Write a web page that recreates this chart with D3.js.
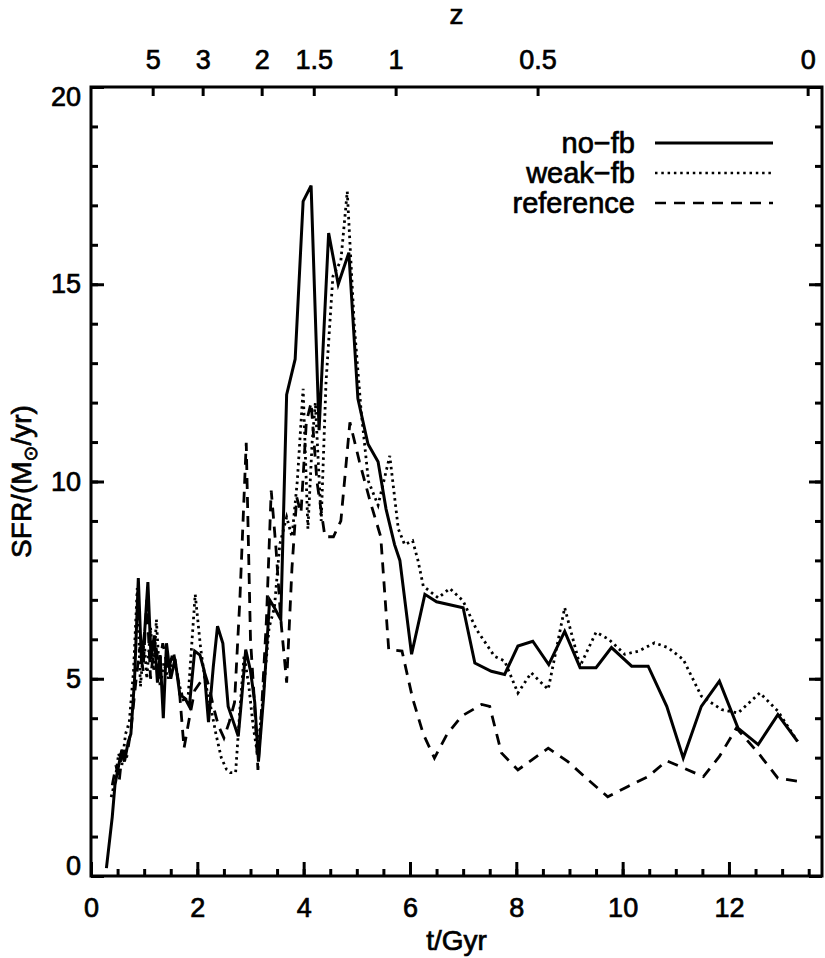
<!DOCTYPE html>
<html>
<head>
<meta charset="utf-8">
<script src="https://cdn.jsdelivr.net/npm/d3@7"></script>
<style>
  body { margin: 0; background: #fff; }
  text { font-family: "Liberation Sans", Arial, sans-serif; fill: #000; stroke: #000; stroke-width: 0.7px; }
</style>
</head>
<body>
<svg id="chart" width="825" height="958"></svg>
<script>
// star formation rate histories, [t/Gyr, SFR in Msun/yr]
const noFb = [
  [0.29,0.2],[0.40,1.5],[0.45,2.3],[0.52,2.8],[0.58,3.2],[0.63,2.9],[0.70,3.4],[0.75,3.6],
  [0.82,5.0],[0.89,7.55],[0.95,5.4],[1.01,6.2],[1.07,7.45],[1.13,5.5],[1.19,6.1],[1.25,4.9],
  [1.30,5.6],[1.36,4.0],[1.42,5.9],[1.50,5.0],[1.58,5.5],[1.67,4.6],[1.77,4.5],[1.85,4.3],
  [1.95,5.7],[2.05,5.6],[2.13,5.2],[2.21,3.9],[2.30,5.3],[2.38,6.33],[2.48,5.9],[2.58,4.3],
  [2.68,3.9],[2.77,3.54],[2.84,4.6],[2.91,5.74],[3.00,5.2],[3.08,4.4],[3.15,2.9],[3.25,4.6],
  [3.36,7.0],[3.45,6.8],[3.57,6.5],[3.68,12.2],[3.84,13.1],[3.99,17.1],[4.14,17.5],[4.29,11.3],
  [4.47,16.3],[4.65,15.0],[4.85,15.8],[5.02,12.1],[5.21,10.95],[5.40,10.5],[5.55,9.3],[5.71,8.4],
  [5.81,8.0],[6.03,5.62],[6.28,7.14],[6.50,6.95],[7.00,6.8],[7.22,5.4],[7.53,5.19],[7.78,5.11],
  [8.03,5.83],[8.31,5.95],[8.61,5.36],[8.91,6.2],[9.20,5.28],[9.50,5.28],[9.79,5.79],[10.17,5.32],
  [10.48,5.32],[10.83,4.3],[11.14,2.99],[11.48,4.3],[11.82,4.94],[12.17,3.75],[12.55,3.33],
  [12.92,4.09],[13.29,3.41]
];
const weakFb = [
  [0.38,2.0],[0.45,2.4],[0.52,3.1],[0.58,2.8],[0.65,3.6],[0.72,3.9],[0.80,5.2],[0.87,7.3],
  [0.93,4.8],[1.00,6.0],[1.05,5.0],[1.12,6.3],[1.18,5.2],[1.23,6.5],[1.30,4.8],[1.37,5.4],
  [1.45,5.0],[1.55,5.6],[1.65,4.9],[1.75,4.4],[1.83,4.6],[1.96,7.14],[2.06,5.8],[2.15,4.9],
  [2.25,4.3],[2.35,3.6],[2.45,3.0],[2.55,2.7],[2.62,2.62],[2.72,2.62],[2.80,4.2],[2.88,5.6],
  [2.97,4.8],[3.05,3.8],[3.13,3.1],[3.22,4.3],[3.35,6.3],[3.45,6.8],[3.55,8.4],[3.68,9.1],
  [3.78,8.6],[3.88,10.0],[3.99,12.35],[4.08,8.8],[4.16,11.0],[4.22,12.0],[4.33,9.0],[4.42,12.5],
  [4.55,15.2],[4.70,15.6],[4.82,17.35],[4.95,14.0],[5.08,11.8],[5.22,10.0],[5.40,9.4],[5.62,10.65],
  [5.78,8.8],[5.90,8.4],[6.05,8.5],[6.15,8.0],[6.25,7.35],[6.53,7.05],[6.75,7.29],[7.00,6.97],
  [7.25,6.25],[7.59,5.57],[7.78,5.45],[8.03,4.64],[8.28,5.15],[8.60,4.73],[8.91,6.8],[9.20,5.32],
  [9.50,6.18],[9.74,6.0],[10.04,5.62],[10.30,5.7],[10.60,5.91],[10.85,5.79],[11.14,5.49],
  [11.48,4.56],[11.86,4.22],[12.17,4.13],[12.58,4.64],[12.92,4.18],[13.29,3.41]
];
const reference = [
  [0.40,2.3],[0.47,2.8],[0.53,2.4],[0.60,3.3],[0.67,3.0],[0.75,3.7],[0.85,5.0],[0.92,5.8],
  [0.98,5.2],[1.05,7.0],[1.12,5.0],[1.20,6.0],[1.28,5.3],[1.35,5.9],[1.45,5.2],[1.55,5.7],
  [1.65,4.9],[1.75,3.24],[1.85,4.0],[1.95,4.7],[2.05,4.9],[2.15,5.1],[2.22,4.8],[2.30,4.3],
  [2.40,3.8],[2.50,3.5],[2.60,3.9],[2.70,4.4],[2.80,7.0],[2.92,10.98],[3.00,6.0],[3.07,4.5],
  [3.14,2.69],[3.22,4.5],[3.30,6.5],[3.39,9.77],[3.48,8.3],[3.57,6.5],[3.68,4.9],[3.78,7.8],
  [3.87,9.6],[3.95,9.2],[4.05,11.5],[4.14,12.0],[4.25,10.0],[4.40,8.6],[4.56,8.6],[4.70,9.0],
  [4.87,11.5],[5.05,10.5],[5.25,9.5],[5.45,8.6],[5.60,5.74],[5.85,5.7],[6.05,4.5],[6.25,3.6],
  [6.46,2.99],[6.70,3.6],[6.97,4.05],[7.35,4.35],[7.50,4.3],[7.72,3.12],[8.03,2.69],[8.30,2.95],
  [8.60,3.24],[8.97,2.9],[9.35,2.44],[9.72,2.01],[10.10,2.27],[10.48,2.52],[10.83,2.92],
  [11.14,2.74],[11.52,2.52],[11.82,3.03],[12.14,3.75],[12.55,3.12],[12.92,2.48],[13.29,2.4]
];

// redshift axis along the top: label and the cosmic time it sits at
const zLabels = ['5', '3', '2', '1.5', '1', '0.5', '0'];
const zTimes = [1.16, 2.10, 3.21, 4.19, 5.73, 8.40, 13.48];

const seriesNames = ['no-fb', 'weak-fb', 'reference'];
const seriesData = [noFb, weakFb, reference];
const dashes = [null, '2.5,3.8', '11,8'];

const width = 825;
const height = 958;
const marginTop = 87, marginRight = 3, marginBottom = 82, marginLeft = 91;

const x = d3.scaleLinear([0, 13.75], [marginLeft, width - marginRight]);
const y = d3.scaleLinear([0, 20], [height - marginBottom, marginTop]);

const svg = d3.select('#chart')
    .attr('viewBox', [0, 0, width, height]);

svg.append('rect')
    .attr('width', width).attr('height', height).attr('fill', '#fff');

svg.append('clipPath').attr('id', 'plot')
  .append('rect')
    .attr('x', marginLeft).attr('y', marginTop)
    .attr('width', x.range()[1] - marginLeft)
    .attr('height', y.range()[0] - marginTop);

const styleAxis = g => {
  g.select('.domain').remove();
  g.selectAll('.tick line').attr('stroke', '#000').attr('stroke-width', 3);
  g.selectAll('.tick text').attr('font-size', 27).attr('fill', '#000');
};

// bottom: major + minor, pointing inward
svg.append('g')
    .attr('transform', `translate(0,${y(0)})`)
    .call(d3.axisBottom(x).tickValues(d3.range(0, 13.75, 0.5)).tickFormat('')
      .tickSizeInner(-7).tickSizeOuter(0))
    .call(styleAxis);
svg.append('g')
    .attr('transform', `translate(0,${y(0)})`)
    .call(d3.axisBottom(x).tickValues(d3.range(0, 13, 2)).tickSizeInner(-14)
      .tickSizeOuter(0).tickPadding(22))
    .call(styleAxis);

// left: major + minor
svg.append('g')
    .attr('transform', `translate(${marginLeft},0)`)
    .call(d3.axisLeft(y).tickValues(d3.range(0, 21, 1)).tickFormat('')
      .tickSizeInner(-7).tickSizeOuter(0))
    .call(styleAxis);
svg.append('g')
    .attr('transform', `translate(${marginLeft},0)`)
    .call(d3.axisLeft(y).tickValues([0, 5, 10, 15, 20]).tickSizeInner(-13)
      .tickSizeOuter(0).tickPadding(10))
    .call(styleAxis)
    .call(g => g.selectAll('.tick text')
      .attr('dy', d => d === 0 ? '-0.05em' : d === 20 ? '0.7em' : '0.32em'));

// right: mirrored ticks, no labels
svg.append('g')
    .attr('transform', `translate(${x.range()[1]},0)`)
    .call(d3.axisRight(y).tickValues(d3.range(0, 21, 1)).tickFormat('')
      .tickSizeInner(-7).tickSizeOuter(0))
    .call(styleAxis);
svg.append('g')
    .attr('transform', `translate(${x.range()[1]},0)`)
    .call(d3.axisRight(y).tickValues([0, 5, 10, 15, 20]).tickFormat('')
      .tickSizeInner(-13).tickSizeOuter(0))
    .call(styleAxis);

// top: redshift
svg.append('g')
    .attr('transform', `translate(0,${marginTop})`)
    .call(d3.axisTop(x).tickValues(zTimes).tickFormat((d, i) => zLabels[i])
      .tickSizeInner(-9).tickSizeOuter(0).tickPadding(18))
    .call(styleAxis);

// frame
svg.append('rect')
    .attr('x', marginLeft).attr('y', marginTop)
    .attr('width', x.range()[1] - marginLeft)
    .attr('height', y.range()[0] - marginTop)
    .attr('fill', 'none').attr('stroke', '#000').attr('stroke-width', 3);

// axis titles
svg.append('text')
    .attr('x', (marginLeft + x.range()[1]) / 2).attr('y', 950)
    .attr('text-anchor', 'middle').attr('font-size', 28)
    .text('t/Gyr');
svg.append('text')
    .attr('x', (marginLeft + x.range()[1]) / 2).attr('y', 24)
    .attr('text-anchor', 'middle').attr('font-size', 28)
    .text('z');
const yTitle = svg.append('text')
    .attr('transform', `translate(31,${(y.range()[0] + marginTop) / 2}) rotate(-90)`)
    .attr('text-anchor', 'middle').attr('font-size', 28);
yTitle.append('tspan').text('SFR/(M');
yTitle.append('tspan').attr('font-size', 19).attr('dy', 6)
    .style('font-family', '"DejaVu Sans", sans-serif').text('\u2299');
yTitle.append('tspan').attr('dy', -6).text('/yr)');

// lines
const line = d3.line()
    .x(d => x(d[0]))
    .y(d => y(d[1]));

svg.append('g')
    .attr('clip-path', 'url(#plot)')
    .attr('fill', 'none')
    .attr('stroke', '#000')
    .attr('stroke-linejoin', 'miter')
  .selectAll('path')
  .data(seriesData)
  .join('path')
    .attr('stroke-width', (d, i) => i === 0 ? 3 : 2.8)
    .attr('stroke-dasharray', (d, i) => dashes[i])
    .attr('d', line);

// legend
const legend = svg.append('g')
  .selectAll('g')
  .data(seriesNames)
  .join('g')
    .attr('transform', (d, i) => `translate(0,${143 + i * 30})`);
legend.append('text')
    .attr('x', 635).attr('dy', '0.35em')
    .attr('text-anchor', 'end').attr('font-size', 29)
    .text(d => d.replace('-', '\u2212'));
legend.append('line')
    .attr('x1', 655).attr('x2', 773)
    .attr('stroke', '#000')
    .attr('stroke-width', (d, i) => i === 0 ? 3 : 2.6)
    .attr('stroke-dasharray', (d, i) => dashes[i]);
</script>
</body>
</html>
